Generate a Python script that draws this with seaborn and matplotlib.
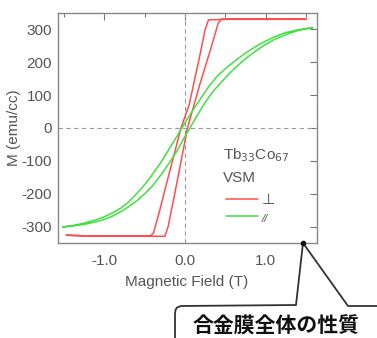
import numpy as np
import pandas as pd
import matplotlib
matplotlib.use("Agg")
import matplotlib.pyplot as plt
from matplotlib.lines import Line2D
from matplotlib.ticker import FixedLocator, FixedFormatter
import seaborn as sns

# ---- data ----
# perpendicular (red) loop: descending-field branch, then ascending-field branch
perp_down_x = [1.50, 1.0, 0.5, 0.29, 0.25, 0.17, 0.05, -0.05, -0.22, -0.33, -0.39, -0.43, -0.8, -1.2, -1.47]
perp_down_m = [330, 330, 330, 328, 300, 205, 70, 0, -160, -265, -318, -329, -329, -328, -326]
perp_up_x = [-1.47, -1.2, -0.8, -0.25, -0.21, -0.10, 0.03, 0.18, 0.33, 0.41, 0.45, 0.8, 1.2, 1.50]
perp_up_m = [-326, -328, -329, -329, -300, -165, 0, 130, 250, 318, 330, 330, 330, 330]

# parallel (green) loop
par_down_x = [1.58, 1.5, 1.4, 1.25, 1.1, 1.0, 0.9, 0.75, 0.6, 0.5, 0.4, 0.3, 0.2, 0.1, 0.0, -0.04,
              -0.1, -0.2, -0.3, -0.43, -0.5, -0.6, -0.7, -0.8, -0.9, -1.0, -1.1, -1.25, -1.4, -1.52]
par_down_m = [304, 302, 298, 290, 276, 264, 251, 228, 200, 180, 158, 128, 92, 55, 16, 0,
              -25, -65, -105, -150, -172, -200, -225, -244, -258, -270, -279, -289, -297, -301]
par_up_x = [-1.52, -1.4, -1.25, -1.1, -1.0, -0.9, -0.75, -0.6, -0.5, -0.4, -0.3, -0.2, -0.1, 0.0, 0.06,
            0.15, 0.25, 0.35, 0.49, 0.6, 0.7, 0.8, 0.9, 1.0, 1.1, 1.25, 1.4, 1.5, 1.58]
par_up_m = [-301, -298, -293, -285, -278, -268, -248, -222, -200, -175, -143, -108, -70, -25, 0,
            38, 78, 112, 150, 178, 200, 220, 238, 254, 268, 284, 296, 301, 304]

x_ticks = [-1.0, 0.0, 1.0]
x_ticklabels = ["-1.0", "0.0", "1.0"]
x_minor = [-1.5, -0.5, 0.5, 1.5]
y_ticks = [300, 200, 100, 0, -100, -200, -300]
y_ticklabels = ["300", "200", "100", "0", "-100", "-200", "-300"]

series_names = ["perp", "par"]
legend_labels = ["\u22A5", "//"]
colors = {"perp": "#ff4d4d", "par": "#3fe03f"}

frames = []
for name, xs, ms in [("perp", perp_down_x + perp_up_x, perp_down_m + perp_up_m),
                     ("par", par_down_x + par_up_x, par_down_m + par_up_m)]:
    frames.append(pd.DataFrame({"H": xs, "M": ms, "series": name, "order": range(len(xs))}))
df = pd.concat(frames, ignore_index=True)

# ---- style ----
sns.set_style("white")
plt.rcParams["font.family"] = ["Liberation Sans", "DejaVu Sans"]
plt.rcParams["axes.unicode_minus"] = False

W, H = 377, 338
fig = plt.figure(figsize=(W / 100, H / 100), dpi=100)
ax = fig.add_axes([57.5 / W, 1 - 242.5 / H, (316.7 - 57.5) / W, (242.5 - 12.7) / H])

ax.axhline(0, color="#9a9a9a", lw=0.8, ls=(0, (4, 3)), zorder=1)
ax.axvline(0, color="#9a9a9a", lw=0.8, ls=(0, (4, 3)), zorder=1)

sns.lineplot(data=df, x="H", y="M", hue="series", sort=False, estimator=None,
             units="series", palette=colors, lw=1.1, ax=ax, legend=False, zorder=3)

ax.set_xlim(-1.58, 1.63)
ax.set_ylim(-348, 350)

tc = "#555555"
ax.xaxis.set_major_locator(FixedLocator(x_ticks))
ax.xaxis.set_major_formatter(FixedFormatter(x_ticklabels))
ax.xaxis.set_minor_locator(FixedLocator(x_minor))
ax.yaxis.set_major_locator(FixedLocator(y_ticks))
ax.yaxis.set_major_formatter(FixedFormatter(y_ticklabels))
ax.tick_params(axis="both", which="both", direction="in", top=True, right=True,
               color="#777777", width=0.8, labelcolor=tc, labelsize=11)
ax.tick_params(axis="both", which="major", length=5)
ax.tick_params(axis="both", which="minor", length=3)
ax.tick_params(axis="x", which="both", pad=8)
ax.tick_params(axis="y", which="both", pad=4)
for s in ax.spines.values():
    s.set_color("#888888")
    s.set_linewidth(1.0)

ax.set_xlabel("Magnetic Field (T)", color=tc, fontsize=11, labelpad=5)
ax.set_ylabel("M (emu/cc)", color=tc, fontsize=11, labelpad=0)

# legend block
ax.text(0.638, 0.379, "Tb$_{33}$Co$_{67}$", transform=ax.transAxes, fontsize=11,
        color=tc, va="center", ha="left")
ax.text(0.638, 0.279, "VSM", transform=ax.transAxes, fontsize=11,
        color=tc, va="center", ha="left")
handles = [Line2D([], [], color=colors[n], lw=1.1) for n in series_names]
leg = ax.legend(handles, legend_labels, loc="upper left", bbox_to_anchor=(0.625, 0.245),
                frameon=False, fontsize=11, handlelength=2.1, handletextpad=0.25,
                labelspacing=0.25, borderaxespad=0)
for t in leg.get_texts():
    t.set_color(tc)
leg.get_texts()[0].set_family(["DejaVu Sans"])
leg.get_texts()[1].set_fontstyle("italic")
leg.get_texts()[1].set_fontsize(8)

# callout bubble
def P(pts):
    xs = [p[0] / W for p in pts]
    ys = [1 - p[1] / H for p in pts]
    return xs, ys

bx, by = P([(377, 306), (348, 306), (303, 243), (296, 305), (181, 306), (177, 307.5),
            (175.5, 310), (175, 314), (175, 338)])
fig.add_artist(Line2D(bx, by, color="#333333", lw=1.3, transform=fig.transFigure))
dx, dy = P([(303, 243)])
fig.add_artist(Line2D(dx, dy, color="#111111", marker="o", ms=3, lw=0, transform=fig.transFigure))
fig.text(276 / W, 1 - 326 / H, "合金膜全体の性質", fontsize=15, color="#111111", weight="bold",
         family=["Noto Sans CJK JP", "DejaVu Sans"], ha="center", va="center")

fig.savefig("out.png", dpi=100)
